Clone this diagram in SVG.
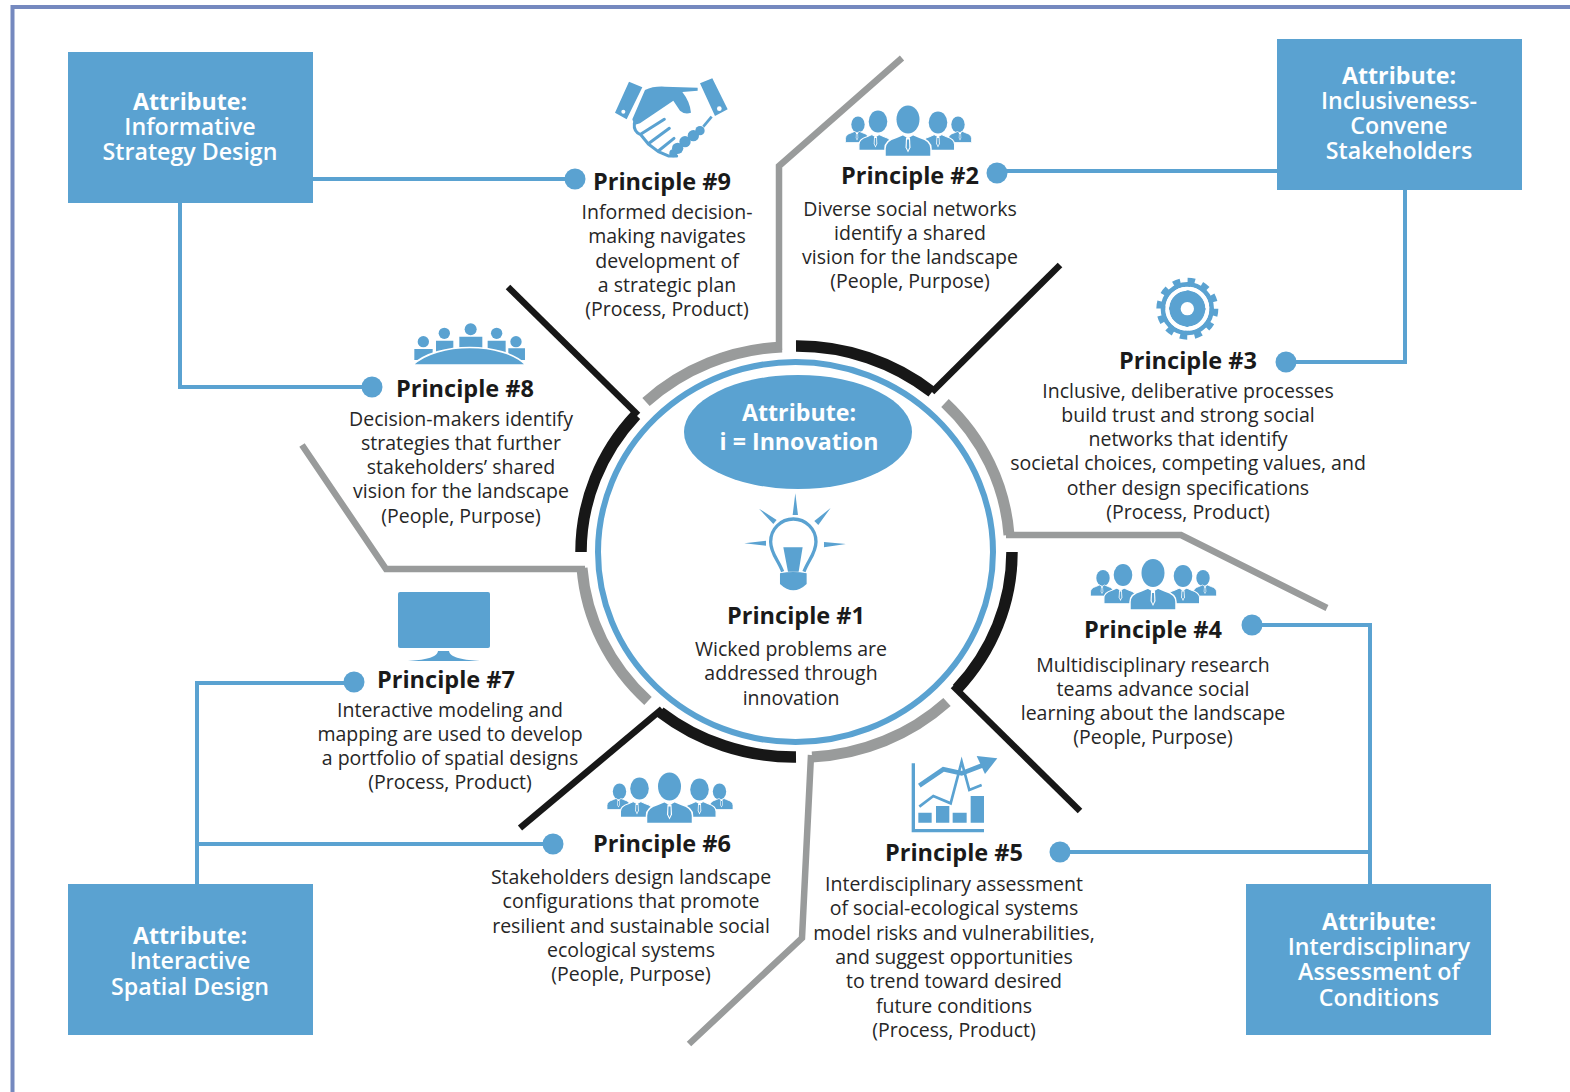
<svg xmlns="http://www.w3.org/2000/svg" xmlns:xlink="http://www.w3.org/1999/xlink" width="1570" height="1092" viewBox="0 0 1570 1092">
<style>
text{font-family:"Open Sans","Noto Sans","Liberation Sans",sans-serif;text-anchor:middle}
.b{font-size:19.5px;fill:#262626}
.t{font-size:23.500px;font-weight:700;fill:#1a1a1a}
.w{font-size:23.200px;font-weight:600;fill:#fff}
.a{font-size:23.200px;font-weight:700;fill:#fff}
.box{fill:#5aa2d1}
.i{fill:#5aa2d1}
.link{fill:none;stroke:#5aa2d1;stroke-width:4}
.gray{fill:none;stroke:#999b9b;stroke-width:6.500}
.dark{fill:none;stroke:#171717;stroke-width:6.500}
.ga{fill:none;stroke:#999b9b;stroke-width:11}
.da{fill:none;stroke:#171717;stroke-width:11.500}
</style>
<defs>
<g id="torso">
<path d="M-23,17 V9 Q-23,1 -12,-2 L-5,-5 L0,-2 L5,-5 L12,-2 Q23,1 23,9 V17 Z" stroke="#fff" stroke-width="1.500"/>
<path d="M-2,-2 H2 L2.500,8 L0,13 L-2.500,8 Z" fill="#fff"/>
<path d="M-1,0 H1 L1.300,8 L0,11 L-1.300,8 Z" fill="#5aa2d1"/>
</g>
<g id="people" fill="#5aa2d1">
<ellipse cx="-50" cy="-15" rx="6.700" ry="8"/>
<ellipse cx="50" cy="-15" rx="6.700" ry="8"/>
<use xlink:href="#torso" transform="translate(-51,-5.500) scale(.5)"/>
<use xlink:href="#torso" transform="translate(52,-5.500) scale(.5)"/>
<ellipse cx="-30" cy="-18" rx="9.300" ry="11"/>
<ellipse cx="30" cy="-17" rx="9.300" ry="11"/>
<use xlink:href="#torso" transform="translate(-32.500,-1.400) scale(.72)"/>
<use xlink:href="#torso" transform="translate(30,-1.400) scale(.72)"/>
<ellipse cx="0" cy="-20" rx="11.500" ry="14"/>
<use xlink:href="#torso"/>
</g>
</defs>
<rect width="1570" height="1092" fill="#fff"/>
<path d="M1570,7 H12.500 V1092" fill="none" stroke="#7589bf" stroke-width="4"/>

<g id="connectors">
<path class="link" d="M313,179 H575"/>
<path class="link" d="M180,203 V387 H372"/>
<path class="link" d="M1277,171 H997"/>
<path class="link" d="M1405,190 V362 H1286"/>
<path class="link" d="M1370,884 V625 H1252"/>
<path class="link" d="M1370,852 H1060"/>
<path class="link" d="M197,884 V683 H354"/>
<path class="link" d="M197,844 H553"/>
<g class="i">
<circle cx="575" cy="179" r="10.500"/><circle cx="372" cy="387" r="10.500"/><circle cx="997" cy="173" r="10.500"/><circle cx="1286" cy="362" r="10.500"/><circle cx="1252" cy="625" r="10.500"/><circle cx="1060" cy="852" r="10.500"/><circle cx="354" cy="682" r="10.500"/><circle cx="553" cy="844" r="10.500"/>
</g>
</g>

<g id="dividers">
<path class="ga" d="M646,402 A214,205 0 0 1 782,347"/>
<path class="gray" d="M779,350 V166 L902,58"/>
<path class="da" d="M796,346 A214,205 0 0 1 932,392"/>
<path class="dark" d="M932,392 L1060,265"/>
<path class="ga" d="M945,403 A214,205 0 0 1 1009,535"/>
<path class="gray" d="M1006,535 H1181 L1327,608"/>
<path class="da" d="M1012,552 A214,205 0 0 1 957,689"/>
<path class="dark" d="M953,686 L1080,811"/>
<path class="ga" d="M947,702 A214,205 0 0 1 812,757"/>
<path class="gray" d="M811,755 L802,938 L689,1044"/>
<path class="da" d="M796,757 A214,205 0 0 1 660,712"/>
<path class="dark" d="M662,709 L520,828"/>
<path class="ga" d="M648,701 A214,205 0 0 1 582,568"/>
<path class="gray" d="M585,569 H386 L302,445"/>
<path class="da" d="M581,552 A214,205 0 0 1 636,415"/>
<path class="dark" d="M638,415 L508,287"/>
</g>

<g id="principle-1">
<ellipse cx="795.500" cy="552" rx="197.500" ry="190" fill="none" stroke="#5aa2d1" stroke-width="6"/>
<ellipse class="i" cx="798" cy="432" rx="114" ry="57"/>
<text class="a" x="799" y="421">Attribute:</text>
<text class="a" x="799" y="450">i = Innovation</text>
<g transform="translate(560,330) scale(.3333)">
<path class="i" d="M706,490 L714,555 H698 Z M597,536 L650,570 L640,582 Z M812,534 L775,585 L763,573 Z M553,640 L618,632 V647 Z M858,642 L792,652 V636 Z"/>
<path d="M668,725 C655,690 632,670 632,635 A68,68 0 0 1 768,635 C768,670 745,690 732,725" fill="none" stroke="#5aa2d1" stroke-width="10"/>
<path class="i" d="M670,652 H728 L716,725 H684 Z M660,730 Q700,722 740,730 V762 Q700,800 660,762 Z"/>
</g>
<text class="t" x="796" y="624">Principle #1</text>
<text class="b" x="791" y="656">Wicked problems are</text>
<text class="b" x="791" y="680">addressed through</text>
<text class="b" x="791" y="705">innovation</text>
</g>

<g id="principle-2">
<use xlink:href="#people" transform="translate(908,139.500)"/>
<text class="t" x="910" y="184">Principle #2</text>
<text class="b" x="910" y="216">Diverse social networks</text>
<text class="b" x="910" y="240">identify a shared</text>
<text class="b" x="910" y="264">vision for the landscape</text>
<text class="b" x="910" y="288">(People, Purpose)</text>
</g>

<g id="principle-3">
<g transform="translate(1145,270) scale(.3333)">
<circle cx="127" cy="116" r="84" fill="none" stroke="#5aa2d1" stroke-width="18" stroke-dasharray="22 22"/>
<circle cx="127" cy="116" r="73" fill="none" stroke="#5aa2d1" stroke-width="14"/>
<circle cx="127" cy="116" r="55" class="i"/>
<circle cx="127" cy="116" r="20" fill="#fff"/>
<circle cx="127" cy="116" r="60" fill="none" stroke="#fff" stroke-width="12" stroke-dasharray="84.250 10" transform="rotate(5 127 116)"/>
</g>
<text class="t" x="1188" y="369">Principle #3</text>
<text class="b" x="1188" y="398">Inclusive, deliberative processes</text>
<text class="b" x="1188" y="422">build trust and strong social</text>
<text class="b" x="1188" y="446">networks that identify</text>
<text class="b" x="1188" y="470">societal choices, competing values, and</text>
<text class="b" x="1188" y="495">other design specifications</text>
<text class="b" x="1188" y="519">(Process, Product)</text>
</g>

<g id="principle-4">
<use xlink:href="#people" transform="translate(1153,593)"/>
<text class="t" x="1153" y="638">Principle #4</text>
<text class="b" x="1153" y="672">Multidisciplinary research</text>
<text class="b" x="1153" y="696">teams advance social</text>
<text class="b" x="1153" y="720">learning about the landscape</text>
<text class="b" x="1153" y="744">(People, Purpose)</text>
</g>

<g id="principle-5">
<g transform="translate(880,740) scale(.3333)">
<path d="M100,70 V272 H312" fill="none" stroke="#5aa2d1" stroke-width="10"/>
<path class="i" d="M115,218 H155 V248 H115 Z M168,198 H208 V248 H168 Z M218,218 H260 V248 H218 Z M272,168 H312 V248 H272 Z"/>
<path d="M118,137 L190,88 L245,100 L310,75" fill="none" stroke="#5aa2d1" stroke-width="14"/>
<path class="i" d="M290,48 L352,55 L315,102 Z"/>
<path d="M118,200 L160,168 L212,190 L245,65 L268,150 L305,135" fill="none" stroke="#5aa2d1" stroke-width="8"/>
</g>
<text class="t" x="954" y="861">Principle #5</text>
<text class="b" x="954" y="891">Interdisciplinary assessment</text>
<text class="b" x="954" y="915">of social-ecological systems</text>
<text class="b" x="954" y="940">model risks and vulnerabilities,</text>
<text class="b" x="954" y="964">and suggest opportunities</text>
<text class="b" x="954" y="988">to trend toward desired</text>
<text class="b" x="954" y="1013">future conditions</text>
<text class="b" x="954" y="1037">(Process, Product)</text>
</g>

<g id="principle-6">
<use xlink:href="#people" transform="translate(669.500,806.500)"/>
<text class="t" x="662" y="852">Principle #6</text>
<text class="b" x="631" y="884">Stakeholders design landscape</text>
<text class="b" x="631" y="908">configurations that promote</text>
<text class="b" x="631" y="933">resilient and sustainable social</text>
<text class="b" x="631" y="957">ecological systems</text>
<text class="b" x="631" y="981">(People, Purpose)</text>
</g>

<g id="principle-7">
<rect class="i" x="398" y="592" width="92" height="56" rx="2"/>
<path class="i" d="M438,651 H449 C450,658 465,660 480,661 H408 C423,660 437,658 438,651 Z"/>
<text class="t" x="446" y="688">Principle #7</text>
<text class="b" x="450" y="717">Interactive modeling and</text>
<text class="b" x="450" y="741">mapping are used to develop</text>
<text class="b" x="450" y="765">a portfolio of spatial designs</text>
<text class="b" x="450" y="789">(Process, Product)</text>
</g>

<g id="principle-8">
<g transform="translate(380,310) scale(.3333)" class="i">
<circle cx="130" cy="95" r="17"/><circle cx="193" cy="70" r="17"/><circle cx="272" cy="58" r="18"/><circle cx="350" cy="70" r="17"/><circle cx="408" cy="95" r="17"/>
<path d="M103,117 H158 V150 H103 Z M168,92 H220 V130 H168 Z M238,80 H307 V120 H238 Z M323,92 H377 V130 H323 Z M385,115 H435 V150 H385 Z"/>
<path d="M98,165 C170,95 370,95 438,165 Z" stroke="#fff" stroke-width="5"/>
</g>
<text class="t" x="465" y="397">Principle #8</text>
<text class="b" x="461" y="426">Decision-makers identify</text>
<text class="b" x="461" y="450">strategies that further</text>
<text class="b" x="461" y="474">stakeholders’ shared</text>
<text class="b" x="461" y="498">vision for the landscape</text>
<text class="b" x="461" y="523">(People, Purpose)</text>
</g>

<g id="principle-9">
<g transform="translate(605,70) scale(.3333)">
<path class="i" d="M72,35 L112,52 L65,148 L30,128 Z M285,40 L322,25 L368,118 L330,138 Z"/>
<circle cx="55" cy="125" r="6" fill="#fff"/><circle cx="343" cy="116" r="7" fill="#fff"/>
<path class="i" d="M120,60 Q145,48 180,50 L278,53 V62 L232,66 Q255,95 258,128 Q240,135 225,122 L205,92 L105,160 L88,165 L82,148 Z"/>
<path d="M88,160 Q85,185 108,195 L130,222 L160,245 L190,258 L215,258 M178,148 L108,192 M193,175 L132,220 M207,205 L160,243" fill="none" stroke="#5aa2d1" stroke-width="9" stroke-linecap="round" stroke-linejoin="round"/>
<circle class="i" cx="285" cy="182" r="14"/><circle class="i" cx="265" cy="197" r="17"/><circle class="i" cx="240" cy="215" r="17"/><circle class="i" cx="218" cy="235" r="17"/><circle class="i" cx="205" cy="250" r="12"/>
<path d="M320,140 L295,170" stroke="#5aa2d1" stroke-width="8"/>
</g>
<text class="t" x="662" y="190">Principle #9</text>
<text class="b" x="667" y="219">Informed decision-</text>
<text class="b" x="667" y="243">making navigates</text>
<text class="b" x="667" y="268">development of</text>
<text class="b" x="667" y="292">a strategic plan</text>
<text class="b" x="667" y="316">(Process, Product)</text>
</g>

<g id="attribute-informative">
<rect class="box" x="68" y="52" width="245" height="151"/>
<text class="a" x="190" y="110">Attribute:</text>
<text class="w" x="190" y="135">Informative</text>
<text class="w" x="190" y="160">Strategy Design</text>
</g>
<g id="attribute-inclusiveness">
<rect class="box" x="1277" y="39" width="245" height="151"/>
<text class="a" x="1399" y="84">Attribute:</text>
<text class="w" x="1399" y="109">Inclusiveness-</text>
<text class="w" x="1399" y="134">Convene</text>
<text class="w" x="1399" y="159">Stakeholders</text>
</g>
<g id="attribute-interactive">
<rect class="box" x="68" y="884" width="245" height="151"/>
<text class="a" x="190" y="944">Attribute:</text>
<text class="w" x="190" y="969">Interactive</text>
<text class="w" x="190" y="995">Spatial Design</text>
</g>
<g id="attribute-interdisciplinary">
<rect class="box" x="1246" y="884" width="245" height="151"/>
<text class="a" x="1379" y="930">Attribute:</text>
<text class="w" x="1379" y="955">Interdisciplinary</text>
<text class="w" x="1379" y="980">Assessment of</text>
<text class="w" x="1379" y="1006">Conditions</text>
</g>
</svg>
